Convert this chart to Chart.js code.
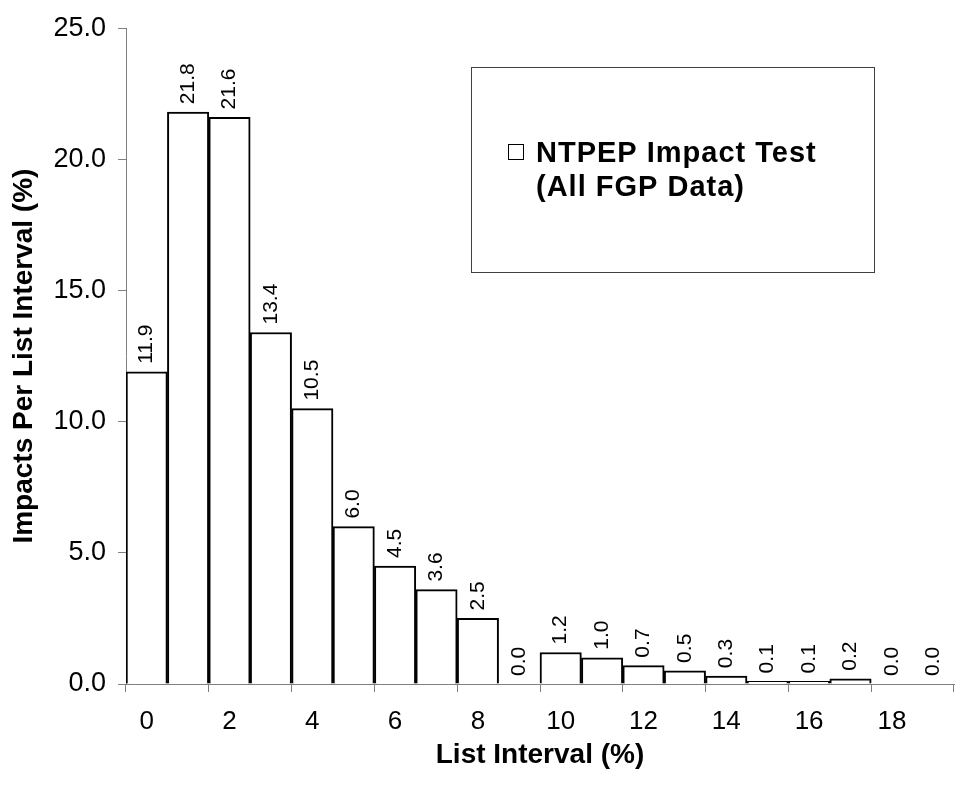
<!DOCTYPE html>
<html>
<head>
<meta charset="utf-8">
<script src="https://cdn.jsdelivr.net/npm/chart.js@4.4.0/dist/chart.umd.min.js"></script>
<style>
  html, body { margin: 0; padding: 0; background: #fff; }
  canvas { display: block; }
</style>
</head>
<body>
<canvas id="impactChart" width="956" height="792"></canvas>
<script>
// Data for the chart
const intervals = ['0', '1', '2', '3', '4', '5', '6', '7', '8', '9',
  '10', '11', '12', '13', '14', '15', '16', '17', '18', '19'];
const impacts = [11.9, 21.8, 21.6, 13.4, 10.5, 6.0, 4.5, 3.6, 2.5, 0.0,
  1.2, 1.0, 0.7, 0.5, 0.3, 0.1, 0.1, 0.2, 0.0, 0.0];
const seriesName = ['NTPEP Impact Test', '(All FGP Data)'];
const yTicks = [0, 5, 10, 15, 20, 25];

const FONT = "'Liberation Sans', Arial, sans-serif";
const AXIS_GREY = '#808080';

// Rotated value labels above each bar
const valueLabels = {
  id: 'valueLabels',
  afterDatasetsDraw(chart) {
    const ctx = chart.ctx;
    const meta = chart.getDatasetMeta(0);
    ctx.save();
    ctx.fillStyle = '#000';
    ctx.font = '21px ' + FONT;
    ctx.textAlign = 'left';
    ctx.textBaseline = 'middle';
    meta.data.forEach((bar, i) => {
      ctx.save();
      ctx.translate(bar.x, bar.y - 8);
      ctx.rotate(-Math.PI / 2);
      ctx.fillText(impacts[i].toFixed(1), 0, 0);
      ctx.restore();
    });
    ctx.restore();
  }
};

// Boxed legend inside the plot
const boxLegend = {
  id: 'boxLegend',
  afterDraw(chart) {
    const ctx = chart.ctx;
    ctx.save();
    ctx.strokeStyle = '#404040';
    ctx.lineWidth = 1;
    ctx.strokeRect(471.5, 67.5, 403, 205);
    ctx.strokeStyle = '#000';
    ctx.fillStyle = '#fff';
    ctx.fillRect(508.5, 144.5, 15, 15);
    ctx.strokeRect(508.5, 144.5, 15, 15);
    ctx.fillStyle = '#000';
    ctx.font = 'bold 29px ' + FONT;
    if ('letterSpacing' in ctx) ctx.letterSpacing = '1px';
    ctx.textAlign = 'left';
    ctx.textBaseline = 'alphabetic';
    ctx.fillText(seriesName[0], 536, 162);
    ctx.fillText(seriesName[1], 536, 196);
    ctx.restore();
  }
};

new Chart(document.getElementById('impactChart'), {
  type: 'bar',
  data: {
    labels: intervals,
    datasets: [{
      label: seriesName.join(' '),
      data: impacts,
      backgroundColor: '#fff',
      borderColor: '#000',
      borderWidth: 2,
      barPercentage: 1,
      categoryPercentage: 1
    }]
  },
  options: {
    responsive: false,
    animation: false,
    layout: { padding: { top: 26, right: 2, left: 0, bottom: 0 } },
    plugins: {
      legend: { display: false },
      tooltip: { enabled: false }
    },
    scales: {
      x: {
        afterFit(scale) { scale.height = 108; },
        grid: {
          offset: true,
          drawOnChartArea: false,
          tickLength: 8,
          color: (c) => (c.type !== 'tick' || c.index % 2 === 0) ? AXIS_GREY : 'rgba(0,0,0,0)'
        },
        border: { color: AXIS_GREY, width: 1 },
        ticks: {
          autoSkip: false,
          maxRotation: 0,
          padding: 14,
          color: '#000',
          font: { family: FONT, size: 26 },
          callback: (v, i) => (i % 2 === 0 ? intervals[i] : '')
        },
        title: {
          display: true,
          text: 'List Interval (%)',
          color: '#000',
          font: { family: FONT, size: 28, weight: 'bold' },
          padding: { top: 4, bottom: 20 }
        }
      },
      y: {
        min: yTicks[0],
        max: yTicks[yTicks.length - 1],
        afterFit(scale) { scale.width = 126; },
        grid: {
          drawOnChartArea: false,
          tickLength: 8,
          color: AXIS_GREY
        },
        border: { color: AXIS_GREY, width: 1 },
        ticks: {
          stepSize: 5,
          padding: 12,
          color: '#000',
          font: { family: FONT, size: 27 },
          callback: (v) => v.toFixed(1)
        },
        title: {
          display: true,
          text: 'Impacts Per List Interval (%)',
          color: '#000',
          font: { family: FONT, size: 28, weight: 'bold' },
          padding: { top: 7, bottom: 4 }
        }
      }
    }
  },
  plugins: [valueLabels, boxLegend]
});
</script>
</body>
</html>
